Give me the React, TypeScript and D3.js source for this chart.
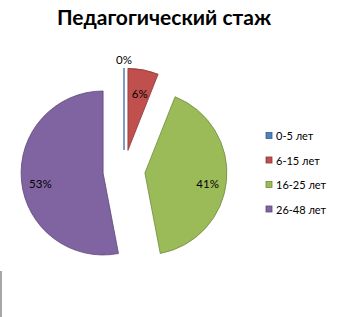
import React from "react";
import * as d3 from "d3";

const categories = ["0-5 лет", "6-15 лет", "16-25 лет", "26-48 лет"];
const values = [0, 6, 41, 53];
const labels = ["0%", "6%", "41%", "53%"];
const colors = ["#4F81BD", "#C0504D", "#9BBB59", "#8064A2"];
const strokes = ["#385D8A", "#8C3836", "#71893F", "#5C4776"];
const title = "Педагогический стаж";

export default function App() {
  const W = 348, H = 317;
  const cx = 124, cy = 171, r = 82, explode = 21;
  const pie = d3.pie<number>().sort(null).value((d) => d).startAngle(0).endAngle(2 * Math.PI);
  const arcs = pie(values);
  const arcGen = d3.arc<d3.PieArcDatum<number>>().innerRadius(0).outerRadius(r);
  const font = "Lato, 'Open Sans', sans-serif";
  return (
    <svg width={W} height={H} style={{ position: "absolute", left: 0, top: 0, background: "#fff" }}>
      <text x={164} y={25} textAnchor="middle" fontFamily={font} fontWeight="bold" fontSize={21} fill="#000">
        {title}
      </text>
      {arcs.map((a, i) => {
        const mid = (a.startAngle + a.endAngle) / 2;
        const ox = cx + explode * Math.sin(mid);
        const oy = cy - explode * Math.cos(mid);
        const isZero = a.endAngle - a.startAngle < 1e-6;
        const lr = isZero ? 91 : 63;
        const lx = ox + lr * Math.sin(mid);
        const ly = oy - lr * Math.cos(mid) + (isZero ? 0 : 5);
        return (
          <g key={i}>
            {isZero ? (
              <line x1={ox} y1={oy} x2={ox} y2={oy - r} stroke="#7F9CC4" strokeWidth={2} />
            ) : (
              <path d={arcGen(a) || ""} transform={`translate(${ox},${oy})`} fill={colors[i]} stroke={strokes[i]} strokeWidth={0.8} />
            )}
            <text x={lx} y={ly} textAnchor="middle" dominantBaseline="central" fontFamily={font} fontSize={11.5} fill="#000">
              {labels[i]}
            </text>
          </g>
        );
      })}
      {categories.map((c, i) => {
        const y = 135.5 + i * 24.5;
        return (
          <g key={c}>
            <rect x={266} y={y - 3} width={6} height={6} fill={colors[i]} stroke={strokes[i]} strokeWidth={0.8} />
            <text x={276} y={y} dominantBaseline="central" fontFamily={font} fontSize={11} fill="#000">
              {c}
            </text>
          </g>
        );
      })}
      <line x1={1} y1={271} x2={1} y2={317} stroke="#888" strokeWidth={1.5} />
    </svg>
  );
}
